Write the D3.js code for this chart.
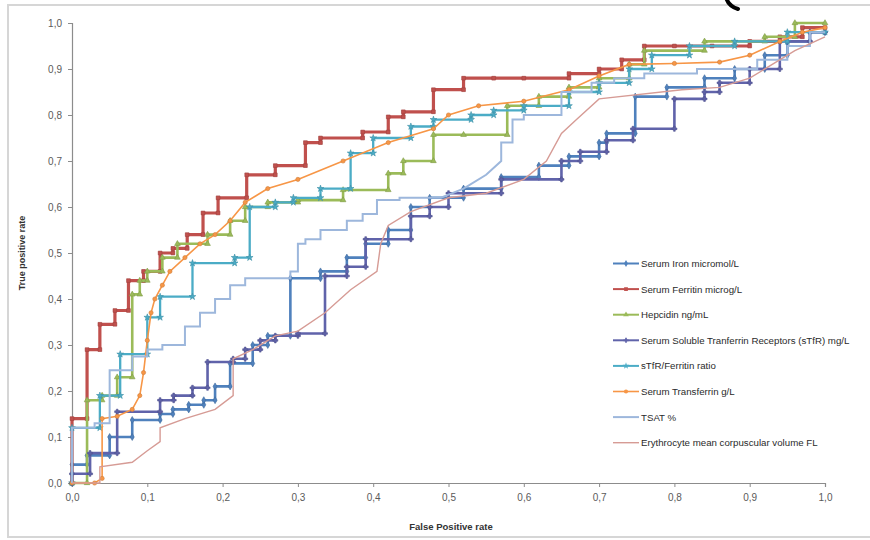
<!DOCTYPE html>
<html>
<head>
<meta charset="utf-8">
<script src="https://cdn.jsdelivr.net/npm/d3@7/dist/d3.min.js"></script>
<style>
	body { margin: 0; background: #fff; }
	svg text { font-family: "Liberation Sans", Arial, sans-serif; }
</style>
</head>
<body>
<svg id="chart" width="870" height="540"></svg>
<script>
'use strict';

// axis ticks (both axes share the same 0..1 rates)
var tickValues = [0, 0.1, 0.2, 0.3, 0.4, 0.5, 0.6, 0.7, 0.8, 0.9, 1.0];

var seriesNames = [
	"Serum Iron micromol/L",
	"Serum Ferritin microg/L",
	"Hepcidin ng/mL",
	"Serum Soluble Tranferrin Receptors (sTfR) mg/L",
	"sTfR/Ferritin ratio",
	"Serum Transferrin g/L",
	"TSAT %",
	"Erythrocyte mean corpuscular volume FL"
];

// [false positive rate, true positive rate]
var serumIron = [[0,0],[0,0.04],[0.02,0.04],[0.02,0.06],[0.05,0.06],[0.05,0.10],[0.08,0.10],[0.08,0.137],[0.117,0.137],[0.117,0.15],[0.134,0.15],[0.134,0.16],[0.155,0.16],[0.155,0.17],[0.175,0.17],[0.175,0.18],[0.19,0.18],[0.19,0.21],[0.21,0.21],[0.21,0.26],[0.24,0.26],[0.24,0.30],[0.26,0.30],[0.26,0.32],[0.29,0.32],[0.29,0.445],[0.33,0.445],[0.33,0.46],[0.365,0.46],[0.365,0.49],[0.39,0.49],[0.39,0.52],[0.42,0.52],[0.42,0.55],[0.45,0.55],[0.45,0.60],[0.475,0.60],[0.475,0.62],[0.52,0.62],[0.52,0.64],[0.57,0.64],[0.57,0.665],[0.62,0.665],[0.62,0.69],[0.66,0.69],[0.66,0.71],[0.70,0.71],[0.70,0.74],[0.71,0.74],[0.71,0.76],[0.748,0.76],[0.748,0.84],[0.79,0.84],[0.79,0.86],[0.84,0.86],[0.84,0.88],[0.88,0.88],[0.88,0.90],[0.92,0.90],[0.92,0.93],[0.95,0.93],[0.95,0.96],[0.98,0.96],[0.98,0.98],[1,0.98]];

var serumFerritin = [[0,0],[0,0.14],[0.02,0.14],[0.02,0.29],[0.037,0.29],[0.037,0.345],[0.057,0.345],[0.057,0.375],[0.075,0.375],[0.075,0.44],[0.095,0.44],[0.095,0.46],[0.117,0.46],[0.117,0.50],[0.134,0.50],[0.134,0.51],[0.153,0.51],[0.153,0.54],[0.174,0.54],[0.174,0.587],[0.194,0.587],[0.194,0.62],[0.232,0.62],[0.232,0.67],[0.27,0.67],[0.27,0.69],[0.31,0.69],[0.31,0.74],[0.33,0.74],[0.33,0.75],[0.386,0.75],[0.386,0.763],[0.42,0.763],[0.42,0.796],[0.44,0.796],[0.44,0.807],[0.48,0.807],[0.48,0.855],[0.52,0.855],[0.52,0.88],[0.56,0.88],[0.60,0.88],[0.66,0.88],[0.66,0.89],[0.70,0.89],[0.70,0.90],[0.73,0.90],[0.73,0.92],[0.76,0.92],[0.76,0.95],[0.80,0.95],[0.85,0.95],[0.90,0.95],[0.90,0.96],[0.94,0.96],[0.94,0.97],[0.97,0.97],[0.97,0.99],[1,0.99]];

var hepcidin = [[0,0],[0.02,0],[0.02,0.18],[0.04,0.18],[0.04,0.19],[0.06,0.19],[0.06,0.23],[0.08,0.23],[0.08,0.41],[0.09,0.41],[0.09,0.44],[0.10,0.44],[0.10,0.46],[0.12,0.46],[0.12,0.49],[0.14,0.49],[0.14,0.52],[0.18,0.52],[0.18,0.54],[0.21,0.54],[0.21,0.57],[0.23,0.57],[0.23,0.60],[0.26,0.60],[0.26,0.61],[0.30,0.61],[0.30,0.615],[0.36,0.615],[0.36,0.637],[0.42,0.637],[0.42,0.673],[0.44,0.673],[0.44,0.70],[0.48,0.70],[0.48,0.757],[0.52,0.757],[0.578,0.757],[0.578,0.82],[0.62,0.82],[0.62,0.84],[0.66,0.84],[0.66,0.86],[0.70,0.86],[0.70,0.88],[0.74,0.88],[0.74,0.91],[0.76,0.91],[0.76,0.94],[0.84,0.94],[0.84,0.96],[0.92,0.96],[0.92,0.97],[0.96,0.97],[0.96,1.0],[1,1]];

var solubleTfR = [[0,0],[0,0.02],[0.024,0.02],[0.024,0.065],[0.06,0.065],[0.06,0.155],[0.117,0.155],[0.117,0.18],[0.135,0.18],[0.135,0.19],[0.16,0.19],[0.16,0.207],[0.18,0.207],[0.18,0.263],[0.214,0.263],[0.214,0.27],[0.23,0.27],[0.23,0.29],[0.25,0.29],[0.25,0.31],[0.27,0.31],[0.27,0.32],[0.30,0.32],[0.30,0.325],[0.336,0.325],[0.336,0.45],[0.365,0.45],[0.365,0.47],[0.39,0.47],[0.39,0.53],[0.45,0.53],[0.45,0.58],[0.475,0.58],[0.475,0.60],[0.50,0.60],[0.50,0.63],[0.57,0.63],[0.57,0.66],[0.65,0.66],[0.65,0.70],[0.675,0.70],[0.675,0.72],[0.71,0.72],[0.71,0.745],[0.745,0.745],[0.745,0.77],[0.80,0.77],[0.80,0.835],[0.84,0.835],[0.84,0.85],[0.86,0.85],[0.86,0.87],[0.90,0.87],[0.90,0.90],[0.94,0.90],[0.94,0.96],[0.98,0.96],[0.98,0.98],[1,0.98]];

var tfrFerritinRatio = [[0,0],[0,0.12],[0.037,0.12],[0.037,0.19],[0.064,0.19],[0.064,0.28],[0.1,0.28],[0.1,0.36],[0.117,0.36],[0.117,0.405],[0.16,0.405],[0.16,0.478],[0.216,0.478],[0.216,0.49],[0.236,0.49],[0.236,0.6],[0.27,0.6],[0.27,0.61],[0.294,0.61],[0.294,0.62],[0.33,0.62],[0.33,0.64],[0.37,0.64],[0.37,0.717],[0.40,0.717],[0.40,0.75],[0.45,0.75],[0.45,0.775],[0.48,0.775],[0.48,0.79],[0.53,0.79],[0.53,0.80],[0.56,0.80],[0.56,0.81],[0.60,0.81],[0.60,0.82],[0.66,0.82],[0.66,0.85],[0.70,0.85],[0.70,0.87],[0.74,0.87],[0.74,0.90],[0.77,0.90],[0.77,0.93],[0.82,0.93],[0.82,0.95],[0.88,0.95],[0.88,0.96],[0.95,0.96],[0.95,0.98],[1,0.98]];

var serumTransferrin = [[0,0],[0.03,0],[0.04,0.01],[0.04,0.14],[0.06,0.145],[0.08,0.16],[0.09,0.19],[0.095,0.24],[0.10,0.31],[0.105,0.37],[0.11,0.40],[0.12,0.43],[0.13,0.46],[0.15,0.49],[0.17,0.52],[0.19,0.54],[0.21,0.57],[0.23,0.61],[0.26,0.64],[0.30,0.66],[0.36,0.70],[0.42,0.74],[0.48,0.77],[0.50,0.80],[0.54,0.82],[0.60,0.83],[0.66,0.855],[0.70,0.885],[0.74,0.91],[0.80,0.912],[0.86,0.915],[0.90,0.93],[0.94,0.96],[0.97,0.98],[1,0.99]];

var tsat = [[0,0],[0,0.12],[0.03,0.12],[0.03,0.13],[0.05,0.13],[0.05,0.245],[0.08,0.245],[0.08,0.275],[0.1,0.275],[0.1,0.29],[0.12,0.29],[0.12,0.30],[0.15,0.30],[0.15,0.34],[0.17,0.34],[0.17,0.37],[0.19,0.37],[0.19,0.40],[0.21,0.40],[0.21,0.43],[0.23,0.43],[0.23,0.445],[0.29,0.445],[0.29,0.46],[0.30,0.46],[0.30,0.52],[0.31,0.52],[0.31,0.53],[0.33,0.53],[0.33,0.55],[0.365,0.55],[0.365,0.57],[0.386,0.57],[0.386,0.585],[0.405,0.585],[0.405,0.615],[0.435,0.615],[0.435,0.62],[0.49,0.62],[0.52,0.64],[0.55,0.67],[0.57,0.70],[0.57,0.74],[0.585,0.74],[0.585,0.79],[0.60,0.79],[0.60,0.80],[0.65,0.80],[0.65,0.85],[0.69,0.85],[0.69,0.87],[0.72,0.87],[0.72,0.88],[0.76,0.88],[0.76,0.89],[0.83,0.89],[0.83,0.90],[0.91,0.90],[0.91,0.92],[0.95,0.92],[0.95,0.95],[0.98,0.95],[0.98,0.98],[1,0.98]];

var erythrocyteMCV = [[0,0],[0.037,0],[0.037,0.035],[0.08,0.045],[0.10,0.07],[0.117,0.09],[0.117,0.12],[0.15,0.14],[0.19,0.16],[0.214,0.19],[0.214,0.27],[0.24,0.29],[0.27,0.32],[0.30,0.33],[0.336,0.37],[0.37,0.42],[0.405,0.46],[0.41,0.52],[0.42,0.56],[0.45,0.59],[0.50,0.62],[0.55,0.63],[0.60,0.66],[0.63,0.70],[0.65,0.76],[0.67,0.79],[0.70,0.835],[0.81,0.855],[0.86,0.86],[0.90,0.88],[0.93,0.91],[0.96,0.94],[1,0.97]];

var seriesValues = [serumIron, serumFerritin, hepcidin, solubleTfR, tfrFerritinRatio, serumTransferrin, tsat, erythrocyteMCV];

// styling, kept apart from the values
var seriesColors = ["#4F81BD", "#C0504D", "#9BBB59", "#6063AA", "#4BACC6", "#F79646", "#9DB7DC", "#D69B95"];
var seriesWidths = [2.6, 3.2, 2.6, 2.6, 2.3, 1.6, 2, 1.4];
var seriesSymbols = [d3.symbolDiamond, d3.symbolSquare, d3.symbolTriangle, d3.symbolCross, d3.symbolStar, d3.symbolCircle, null, null];

var svg = d3.select("#chart");
var W = 870, H = 540;
var plot = {left: 72, right: 825, top: 23, bottom: 483};

var x = d3.scaleLinear().domain([0, 1]).range([plot.left, plot.right]);
var y = d3.scaleLinear().domain([0, 1]).range([plot.bottom, plot.top]);
var fmt = function(d) { return d3.format(".1f")(d).replace(".", ","); };

// chart frame
svg.append("rect")
	.attr("x", 8).attr("y", 5)
	.attr("width", W).attr("height", 532)
	.attr("fill", "#fff")
	.attr("stroke", "#d6d6d6")
	.attr("stroke-width", 2);

// axes
var axisColor = "#8c8c8c";
var gy = svg.append("g")
	.attr("transform", "translate(" + plot.left + ",0)")
	.call(d3.axisLeft(y).tickValues(tickValues).tickFormat(fmt).tickSize(4).tickPadding(6));
var gx = svg.append("g")
	.attr("transform", "translate(0," + plot.bottom + ")")
	.call(d3.axisBottom(x).tickValues(tickValues).tickFormat(fmt).tickSize(4).tickPadding(7));

[gx, gy].forEach(function(g) {
	g.select(".domain").attr("stroke", axisColor).attr("stroke-width", 1.2);
	g.selectAll(".tick line").attr("stroke", axisColor);
	g.selectAll(".tick text")
		.attr("fill", "#5a5a5a")
		.style("font-size", "10px");
});

// axis titles
svg.append("text")
	.attr("transform", "translate(25," + ((plot.top + plot.bottom) / 2) + ") rotate(-90)")
	.attr("text-anchor", "middle")
	.attr("fill", "#333")
	.style("font-size", "9px")
	.style("font-weight", "bold")
	.text("True positive rate");

svg.append("text")
	.attr("x", 451).attr("y", 530)
	.attr("text-anchor", "middle")
	.attr("fill", "#333")
	.style("font-size", "9.5px")
	.style("font-weight", "bold")
	.text("False Positive rate");

// curves
var line = d3.line()
	.x(function(d) { return x(d[0]); })
	.y(function(d) { return y(d[1]); });

var curves = svg.append("g").attr("class", "curves");

seriesValues.forEach(function(vals, i) {
	var g = curves.append("g");
	g.append("path")
		.datum(vals)
		.attr("d", line)
		.attr("fill", "none")
		.attr("stroke", seriesColors[i])
		.attr("stroke-width", seriesWidths[i])
		.attr("stroke-linejoin", "miter");

	if (seriesSymbols[i]) {
		g.selectAll("path.m")
			.data(vals)
			.enter().append("path")
			.attr("class", "m")
			.attr("transform", function(d) { return "translate(" + x(d[0]) + "," + y(d[1]) + ")"; })
			.attr("d", d3.symbol().type(seriesSymbols[i]).size(14))
			.attr("fill", seriesColors[i])
			.attr("stroke", d3.color(seriesColors[i]).darker(0.5))
			.attr("stroke-width", 0.6);
	}
});

// legend
var legend = svg.append("g").attr("transform", "translate(613,263.5)");
seriesNames.forEach(function(name, i) {
	var row = legend.append("g").attr("transform", "translate(0," + (i * 25.6) + ")");
	row.append("line")
		.attr("x1", 0).attr("x2", 26)
		.attr("stroke", seriesColors[i])
		.attr("stroke-width", Math.min(seriesWidths[i], 2));
	if (seriesSymbols[i]) {
		row.append("path")
			.attr("transform", "translate(13,0)")
			.attr("d", d3.symbol().type(seriesSymbols[i]).size(14))
			.attr("fill", seriesColors[i]);
	}
	row.append("text")
		.attr("x", 28).attr("dy", "0.35em")
		.attr("fill", "#2a2a2a")
		.style("font-size", "9.7px")
		.text(name);
});

// stray bracket stroke cut off at the top edge of the picture
svg.append("path")
	.attr("d", "M726,-3 Q728,6 738,9")
	.attr("fill", "none")
	.attr("stroke", "#000")
	.attr("stroke-width", 4)
	.attr("stroke-linecap", "round");
</script>
</body>
</html>
